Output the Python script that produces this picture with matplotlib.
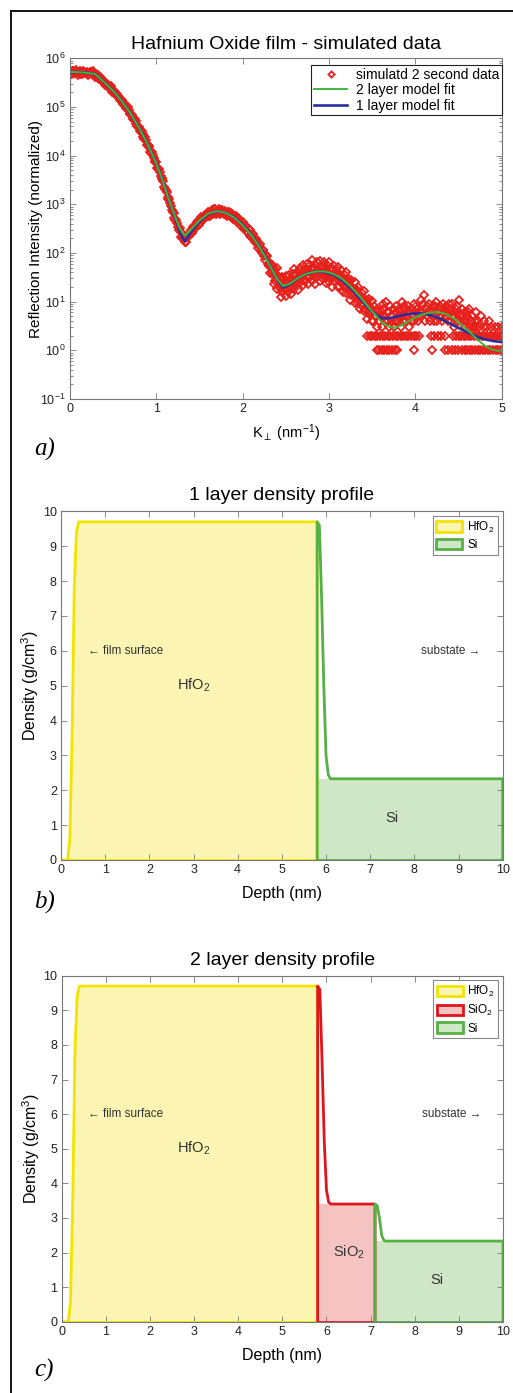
import numpy as np
import matplotlib
matplotlib.use('Agg')
import matplotlib.pyplot as plt
from matplotlib.lines import Line2D
from matplotlib.patches import Patch
import matplotlib.ticker as mticker

plt.rcParams['font.family'] = ['Liberation Sans', 'DejaVu Sans']
plt.rcParams['mathtext.fontset'] = 'custom'
plt.rcParams['mathtext.rm'] = 'Liberation Sans'
plt.rcParams['mathtext.it'] = 'Liberation Sans:italic'
plt.rcParams['mathtext.bf'] = 'Liberation Sans:bold'
plt.rcParams['mathtext.sf'] = 'Liberation Sans'

# ---------------- Panel a data ----------------
# dense part of the simulated data (log10 of intensity), two interleaved readings
segA_k = [0.00, 0.02, 0.04, 0.06, 0.08, 0.10, 0.12, 0.14, 0.16, 0.18,
          0.20, 0.22, 0.24, 0.26, 0.28, 0.30, 0.32, 0.34, 0.36, 0.38,
          0.40, 0.42, 0.44, 0.46, 0.48, 0.50, 0.52, 0.54, 0.56, 0.58,
          0.60, 0.62, 0.64, 0.66, 0.68, 0.70, 0.72, 0.74, 0.76, 0.78,
          0.80, 0.82, 0.84, 0.86, 0.88, 0.90, 0.92, 0.94, 0.96, 0.98,
          1.00, 1.02, 1.04, 1.06, 1.08, 1.10, 1.12, 1.14, 1.16, 1.18,
          1.20, 1.22, 1.24, 1.26, 1.28, 1.30, 1.32, 1.34, 1.36, 1.38,
          1.40, 1.42, 1.44, 1.46, 1.48, 1.50, 1.52, 1.54, 1.56, 1.58,
          1.60, 1.62, 1.64, 1.66, 1.68, 1.70, 1.72, 1.74, 1.76, 1.78,
          1.80, 1.82, 1.84, 1.86, 1.88, 1.90, 1.92, 1.94, 1.96, 1.98,
          2.00, 2.02, 2.04, 2.06, 2.08, 2.10, 2.12, 2.14, 2.16, 2.18,
          2.20, 2.22, 2.24, 2.26, 2.28, 2.30]
segA_log = [5.74, 5.70, 5.73, 5.69, 5.72, 5.70, 5.73, 5.68, 5.71, 5.69,
            5.72, 5.67, 5.71, 5.68, 5.70, 5.64, 5.65, 5.58, 5.59, 5.51,
            5.52, 5.45, 5.45, 5.38, 5.38, 5.31, 5.31, 5.23, 5.23, 5.14,
            5.14, 5.05, 5.04, 4.95, 4.94, 4.85, 4.83, 4.73, 4.71, 4.61,
            4.59, 4.48, 4.45, 4.35, 4.32, 4.21, 4.17, 4.05, 4.02, 3.90,
            3.86, 3.72, 3.67, 3.53, 3.47, 3.32, 3.25, 3.10, 3.03, 2.89,
            2.82, 2.68, 2.62, 2.48, 2.43, 2.30, 2.28, 2.22, 2.34, 2.34,
            2.47, 2.45, 2.56, 2.53, 2.65, 2.61, 2.73, 2.67, 2.78, 2.73,
            2.85, 2.77, 2.88, 2.80, 2.90, 2.82, 2.91, 2.81, 2.89, 2.80,
            2.87, 2.77, 2.85, 2.74, 2.81, 2.70, 2.76, 2.64, 2.70, 2.56,
            2.63, 2.49, 2.55, 2.41, 2.47, 2.32, 2.39, 2.22, 2.28, 2.10,
            2.18, 1.99, 2.06, 1.86, 1.93, 1.73]
segA2_k = [0.01, 0.03, 0.05, 0.07, 0.09, 0.11, 0.13, 0.15, 0.17, 0.19,
           0.21, 0.23, 0.25, 0.27, 0.29, 0.31, 0.33, 0.35, 0.37, 0.39,
           0.41, 0.43, 0.45, 0.47, 0.49, 0.51, 0.53, 0.55, 0.57, 0.59,
           0.61, 0.63, 0.65, 0.67, 0.69, 0.71, 0.73, 0.75, 0.77, 0.79,
           0.81, 0.83, 0.85, 0.87, 0.89, 0.91, 0.93, 0.95, 0.97, 0.99,
           1.01, 1.03, 1.05, 1.07, 1.09, 1.11, 1.13, 1.15, 1.17, 1.19,
           1.21, 1.23, 1.25, 1.27, 1.29, 1.31, 1.33, 1.35, 1.37, 1.39,
           1.41, 1.43, 1.45, 1.47, 1.49, 1.51, 1.53, 1.55, 1.57, 1.59,
           1.61, 1.63, 1.65, 1.67, 1.69, 1.71, 1.73, 1.75, 1.77, 1.79,
           1.81, 1.83, 1.85, 1.87, 1.89, 1.91, 1.93, 1.95, 1.97, 1.99,
           2.01, 2.03, 2.05, 2.07, 2.09, 2.11, 2.13, 2.15, 2.17, 2.19,
           2.21, 2.23, 2.25, 2.27, 2.29]
segA2_log = [5.68, 5.74, 5.69, 5.75, 5.66, 5.72, 5.68, 5.74, 5.70, 5.69,
             5.66, 5.72, 5.67, 5.73, 5.62, 5.66, 5.59, 5.62, 5.55, 5.51,
             5.45, 5.48, 5.40, 5.43, 5.30, 5.32, 5.24, 5.27, 5.19, 5.13,
             5.06, 5.08, 4.98, 5.00, 4.85, 4.85, 4.75, 4.76, 4.66, 4.59,
             4.50, 4.50, 4.38, 4.39, 4.22, 4.20, 4.08, 4.08, 3.96, 3.87,
             3.75, 3.73, 3.58, 3.55, 3.35, 3.30, 3.15, 3.11, 2.96, 2.85,
             2.71, 2.68, 2.53, 2.51, 2.32, 2.30, 2.23, 2.32, 2.34, 2.39,
             2.42, 2.53, 2.53, 2.64, 2.58, 2.68, 2.67, 2.77, 2.76, 2.78,
             2.77, 2.85, 2.82, 2.90, 2.81, 2.87, 2.83, 2.89, 2.85, 2.83,
             2.78, 2.84, 2.77, 2.82, 2.70, 2.74, 2.67, 2.71, 2.63, 2.59,
             2.52, 2.55, 2.46, 2.49, 2.35, 2.37, 2.28, 2.29, 2.20, 2.14,
             2.05, 2.06, 1.94, 1.95, 1.78]

segB_k = [2.32, 2.34, 2.36, 2.38, 2.40, 2.42, 2.44, 2.46, 2.48, 2.50,
          2.52, 2.54, 2.56, 2.58, 2.60, 2.62, 2.64, 2.66, 2.68, 2.70,
          2.72, 2.74, 2.76, 2.78, 2.80, 2.82, 2.84, 2.86, 2.88, 2.90,
          2.92, 2.94, 2.96, 2.98, 3.00, 3.02, 3.04, 3.06, 3.08, 3.10,
          3.12, 3.14, 3.16, 3.18, 3.20, 3.22, 3.24, 3.26, 3.28, 3.30,
          3.32, 3.34, 3.36, 3.38, 3.40, 3.42, 3.44, 3.46, 3.48, 3.50]
segB_log_hi = [1.80, 1.76, 1.65, 1.68, 1.69, 1.48, 1.48, 1.50, 1.34, 1.53,
               1.43, 1.55, 1.43, 1.56, 1.67, 1.54, 1.62, 1.70, 1.57, 1.76,
               1.66, 1.77, 1.65, 1.76, 1.85, 1.69, 1.75, 1.81, 1.66, 1.84,
               1.72, 1.81, 1.67, 1.76, 1.82, 1.65, 1.69, 1.73, 1.56, 1.72,
               1.57, 1.65, 1.48, 1.55, 1.60, 1.41, 1.43, 1.45, 1.26, 1.40,
               1.24, 1.30, 1.12, 1.18, 1.22, 1.02, 1.03, 1.05, 0.87, 1.02]
segB_log_lo = [1.59, 1.61, 1.37, 1.42, 1.27, 1.33, 1.09, 1.19, 1.27, 1.11,
               1.19, 1.30, 1.15, 1.30, 1.25, 1.39, 1.23, 1.39, 1.50, 1.34,
               1.42, 1.52, 1.37, 1.50, 1.43, 1.54, 1.36, 1.50, 1.59, 1.42,
               1.48, 1.56, 1.39, 1.50, 1.40, 1.50, 1.30, 1.42, 1.49, 1.30,
               1.33, 1.40, 1.20, 1.29, 1.18, 1.26, 1.04, 1.14, 1.19, 0.98,
               1.00, 1.05, 0.84, 0.92, 0.80, 0.87, 0.64, 0.74, 0.80, 0.60]
segBm_k = [2.33, 2.35, 2.37, 2.39, 2.41, 2.43, 2.45, 2.47, 2.49, 2.51,
           2.53, 2.55, 2.57, 2.59, 2.61, 2.63, 2.65, 2.67, 2.69, 2.71,
           2.73, 2.75, 2.77, 2.79, 2.81, 2.83, 2.85, 2.87, 2.89, 2.91,
           2.93, 2.95, 2.97, 2.99, 3.01, 3.03, 3.05, 3.07, 3.09, 3.11,
           3.13, 3.15, 3.17, 3.19, 3.21, 3.23, 3.25, 3.27, 3.29, 3.31,
           3.33, 3.35, 3.37, 3.39, 3.41, 3.43, 3.45, 3.47, 3.49]
segBm_log = [1.76, 1.56, 1.58, 1.46, 1.52, 1.29, 1.33, 1.35, 1.26, 1.39,
             1.40, 1.29, 1.41, 1.39, 1.54, 1.39, 1.50, 1.56, 1.49, 1.62,
             1.63, 1.51, 1.62, 1.58, 1.70, 1.53, 1.62, 1.66, 1.57, 1.69,
             1.68, 1.54, 1.63, 1.56, 1.67, 1.48, 1.55, 1.57, 1.46, 1.56,
             1.52, 1.37, 1.43, 1.35, 1.44, 1.23, 1.28, 1.28, 1.15, 1.23,
             1.18, 1.01, 1.06, 0.97, 1.05, 0.83, 0.88, 0.89, 0.77]

# noisy tail: integer counts
cl1_k = [3.50, 3.52, 3.54, 3.56, 3.58, 3.60, 3.62, 3.64, 3.66, 3.68,
         3.70, 3.72, 3.74, 3.76, 3.78, 3.80, 3.82, 3.84, 3.86, 3.88,
         3.90, 3.92, 3.94, 3.96, 3.98, 4.00, 4.02, 4.04, 4.06, 4.08,
         4.10, 4.12, 4.14, 4.16, 4.18, 4.20, 4.22, 4.24, 4.26, 4.28,
         4.30, 4.32, 4.34, 4.36, 4.38, 4.40, 4.42, 4.44, 4.46, 4.48,
         4.50, 4.52, 4.54, 4.56, 4.58, 4.60, 4.62, 4.64, 4.66, 4.68, 4.70]
cl1_I = [6, 8, 5, 7, 4, 6, 9, 5, 10, 4,
         6, 5, 7, 4, 8, 5, 6, 10, 4, 7,
         5, 8, 6, 4, 9, 6, 7, 5, 11, 6,
         14, 7, 5, 9, 6, 8, 4, 10, 6, 7,
         5, 9, 6, 8, 4, 7, 9, 5, 6, 8,
         11, 5, 7, 4, 6, 5, 7, 4, 5, 3, 6]
cl2_k = [3.51, 3.53, 3.55, 3.57, 3.59, 3.61, 3.63, 3.65, 3.67, 3.69,
         3.71, 3.73, 3.75, 3.77, 3.79, 3.81, 3.83, 3.85, 3.87, 3.89,
         3.91, 3.93, 3.95, 3.97, 3.99, 4.01, 4.03, 4.05, 4.07, 4.09,
         4.11, 4.13, 4.15, 4.17, 4.19, 4.21, 4.23, 4.25, 4.27, 4.29,
         4.31, 4.33, 4.35, 4.37, 4.39, 4.41, 4.43, 4.45, 4.47, 4.49,
         4.51, 4.53, 4.55, 4.57, 4.59, 4.61, 4.63, 4.65, 4.67, 4.69]
cl2_I = [4, 5, 3, 6, 5, 3, 7, 4, 6, 3,
         8, 4, 3, 6, 4, 7, 3, 5, 8, 4,
         6, 3, 7, 5, 4, 8, 4, 6, 5, 9,
         4, 8, 6, 4, 7, 5, 8, 4, 6, 8,
         4, 7, 5, 6, 9, 4, 6, 3, 7, 4,
         6, 4, 5, 3, 4, 6, 3, 4, 3, 4]
row1_k = [3.55, 3.58, 3.61, 3.64, 3.67, 3.70, 3.73, 3.76, 3.79, 3.98,
          4.19, 4.34, 4.38, 4.42, 4.46, 4.49, 4.54, 4.57, 4.60, 4.63,
          4.66, 4.69, 4.72, 4.75, 4.78, 4.81, 4.84, 4.87, 4.90, 4.93,
          4.96, 4.99]
row2_k = [3.44, 3.47, 3.50, 3.53, 3.56, 3.59, 3.62, 3.65, 3.68, 3.71,
          3.74, 3.77, 3.80, 3.83, 3.86, 3.89, 3.92, 3.95, 3.98, 4.01,
          4.04, 4.18, 4.22, 4.26, 4.30, 4.34, 4.44, 4.47, 4.50, 4.53,
          4.56, 4.59, 4.62, 4.65, 4.68, 4.71, 4.74, 4.77, 4.80, 4.83,
          4.86, 4.89, 4.92, 4.95, 4.98, 5.00]
row3_k = [4.70, 4.74, 4.79, 4.83, 4.88, 4.92, 4.96, 5.00]
extra_k = [4.72, 4.76, 4.80, 4.85]
extra_I = [4, 5, 4, 4]

# model fits (log10 intensity)
fit2_k = [0.00, 0.15, 0.29, 0.40, 0.50, 0.60, 0.70, 0.80, 0.90, 1.00,
          1.07, 1.14, 1.20, 1.26, 1.30, 1.33, 1.36, 1.40, 1.50, 1.60,
          1.70, 1.80, 1.90, 2.00, 2.10, 2.20, 2.30, 2.40, 2.47, 2.55,
          2.65, 2.75, 2.85, 2.95, 3.05, 3.15, 3.25, 3.35, 3.45, 3.55,
          3.62, 3.70, 3.76, 3.85, 3.95, 4.05, 4.15, 4.25, 4.35, 4.45,
          4.55, 4.65, 4.72, 4.80, 4.88, 4.95, 5.00]
fit2_log = [5.72, 5.71, 5.68, 5.50, 5.33, 5.12, 4.87, 4.57, 4.23, 3.84,
            3.50, 3.12, 2.82, 2.55, 2.42, 2.36, 2.40, 2.48, 2.67, 2.81,
            2.86, 2.83, 2.73, 2.57, 2.37, 2.11, 1.79, 1.46, 1.32, 1.37,
            1.50, 1.58, 1.62, 1.62, 1.57, 1.47, 1.31, 1.12, 0.90, 0.70,
            0.56, 0.48, 0.46, 0.52, 0.63, 0.72, 0.77, 0.79, 0.75, 0.65,
            0.50, 0.34, 0.22, 0.10, 0.02, -0.01, 0.00]
fit1_k = [0.00, 0.15, 0.29, 0.40, 0.50, 0.60, 0.70, 0.80, 0.90, 1.00,
          1.07, 1.14, 1.20, 1.26, 1.30, 1.33, 1.36, 1.40, 1.50, 1.60,
          1.70, 1.80, 1.90, 2.00, 2.10, 2.20, 2.30, 2.40, 2.47, 2.55,
          2.65, 2.75, 2.85, 2.95, 3.05, 3.15, 3.25, 3.35, 3.45, 3.55,
          3.62, 3.70, 3.80, 3.90, 4.00, 4.10, 4.20, 4.30, 4.40, 4.50,
          4.60, 4.70, 4.80, 4.90, 5.00]
fit1_log = [5.72, 5.71, 5.68, 5.50, 5.33, 5.12, 4.87, 4.57, 4.23, 3.84,
            3.50, 3.12, 2.80, 2.50, 2.32, 2.24, 2.31, 2.43, 2.65, 2.80,
            2.86, 2.83, 2.74, 2.58, 2.38, 2.12, 1.80, 1.45, 1.29, 1.36,
            1.50, 1.58, 1.62, 1.61, 1.55, 1.44, 1.28, 1.08, 0.88, 0.72,
            0.66, 0.66, 0.70, 0.74, 0.76, 0.75, 0.71, 0.64, 0.55, 0.46,
            0.37, 0.29, 0.23, 0.19, 0.17]

# ---------------- Panels b/c data ----------------
hf_depth = [0.00, 0.15, 0.20, 0.25, 0.30, 0.35, 0.40, 5.80]
hf_dens = [0.00, 0.00, 0.60, 3.50, 7.80, 9.40, 9.70, 9.70]
si1_depth = [5.80, 5.80, 5.85, 5.90, 5.95, 6.00, 6.05, 6.10, 10.00]
si1_dens = [0.00, 9.70, 9.60, 7.50, 5.00, 3.00, 2.45, 2.33, 2.33]
sio2_depth = [5.80, 5.80, 5.85, 5.90, 5.95, 6.00, 6.05, 6.10, 7.10]
sio2_dens = [0.00, 9.70, 9.60, 7.50, 5.20, 3.80, 3.45, 3.40, 3.40]
si2_depth = [7.10, 7.10, 7.15, 7.20, 7.25, 7.30, 7.35, 10.00]
si2_dens = [0.00, 3.40, 3.35, 3.00, 2.50, 2.35, 2.33, 2.33]
# nominal layer densities / boundaries for fills
rho_si = 2.33
rho_sio2 = 3.40
z_hf_si = 5.80
z_sio2_si = 7.10
z_end = 10.0

# ---------------- styling ----------------
W, H = 513, 1393
fig = plt.figure(figsize=(W / 100, H / 100), dpi=100)


def rect(l, t, r, b):
    return [l / W, 1 - b / H, (r - l) / W, (b - t) / H]


RED = '#e8201c'
GREEN = '#3fb83a'
BLUE = '#2a2f9c'
SPINE = '#777777'

# border of the figure
fig.add_artist(Line2D([11 / W, 11 / W], [0, 1 - 11 / H], transform=fig.transFigure,
                      color='black', lw=1.3))
fig.add_artist(Line2D([11 / W, 1], [1 - 11 / H, 1 - 11 / H], transform=fig.transFigure,
                      color='black', lw=1.3))


def style_axes(ax, labelsize):
    for s in ax.spines.values():
        s.set_color(SPINE)
        s.set_linewidth(0.8)
    ax.tick_params(which='both', direction='in', top=True, right=True,
                   color=SPINE, width=0.6, labelsize=labelsize, labelcolor='#222222', pad=3)
    ax.tick_params(which='major', length=4)
    ax.tick_params(which='minor', length=2)


# ---------------- panel a ----------------
axA = fig.add_axes(rect(70, 58.3, 501.7, 399))
data_k = (segA_k + segA2_k + segB_k + segB_k + segBm_k + cl1_k + cl2_k +
          row1_k + row2_k + row3_k + extra_k)
data_I = ([10 ** v for v in segA_log] + [10 ** v for v in segA2_log] +
          [10 ** v for v in segB_log_hi] + [10 ** v for v in segB_log_lo] +
          [10 ** v for v in segBm_log] + cl1_I + cl2_I +
          [1] * len(row1_k) + [2] * len(row2_k) + [3] * len(row3_k) + extra_I)
axA.plot(data_k, data_I, ls='none', marker='D', ms=3.7, mfc='none', mec=RED, mew=1.3,
         label='simulatd 2 second data')
axA.plot(fit1_k, [10 ** v for v in fit1_log], color=BLUE, lw=1.9, label='1 layer model fit')
axA.plot(fit2_k, [10 ** v for v in fit2_log], color=GREEN, lw=1.4, label='2 layer model fit')
axA.set_yscale('log')
axA.set_xlim(0, 5)
axA.set_ylim(1e-1, 1e6)
axA.set_xticks([0, 1, 2, 3, 4, 5])
axA.yaxis.set_major_locator(mticker.LogLocator(base=10, numticks=20))
axA.yaxis.set_minor_locator(mticker.LogLocator(base=10, subs=np.arange(2, 10), numticks=20))
axA.yaxis.set_minor_formatter(mticker.NullFormatter())
style_axes(axA, 9)
axA.set_title('Hafnium Oxide film - simulated data', fontsize=14, pad=7)
axA.set_ylabel('Reflection Intensity (normalized)', fontsize=11)
axA.yaxis.set_label_coords(-0.062, 0.5)
axA.set_xlabel(r'K$_{\perp}$ (nm$^{-1}$)', fontsize=10.5)
axA.xaxis.set_label_coords(0.5, -0.07)
h, lab = axA.get_legend_handles_labels()
order = [0, 2, 1]
legA = axA.legend([h[i] for i in order], [lab[i] for i in order],
                  loc='upper right', bbox_to_anchor=(501.7 / W, 1 - 65 / H),
                  bbox_transform=fig.transFigure, borderaxespad=0, fontsize=10,
                  fancybox=False, framealpha=1, edgecolor='#222222',
                  handlelength=2.4, handletextpad=0.6, labelspacing=0.1,
                  borderpad=0.2, markerscale=0.85)
legA.get_frame().set_linewidth(0.8)
fig.text(34 / W, 1 - 456 / H, 'a)', fontsize=18, style='italic',
         family=['Liberation Serif', 'DejaVu Serif'], va='baseline', ha='left')

# ---------------- panels b, c ----------------
YEL_L = '#f0e400'
YEL_F = '#fbf4b2'
RED_L = '#e0141c'
RED_F = '#f6c3c3'
GRN_L = '#56b046'
GRN_F = '#cfe7c7'
TXT = '#333333'


def density_axes(ax, title, two_layer):
    ax.fill_between(hf_depth, hf_dens, color=YEL_F, lw=0)
    ax.plot(hf_depth + [z_hf_si], hf_dens + [0.0], color=YEL_L, lw=2)
    ax.plot([0, z_hf_si], [0, 0], color=YEL_L, lw=2)
    if two_layer:
        ax.fill_between([z_hf_si, z_sio2_si], [rho_sio2, rho_sio2], color=RED_F, lw=0)
        ax.fill_between([z_sio2_si, z_end], [rho_si, rho_si], color=GRN_F, lw=0)
        ax.plot(sio2_depth + [z_sio2_si], sio2_dens + [0.0], color=RED_L, lw=2)
        ax.plot([z_hf_si, z_sio2_si], [0, 0], color=RED_L, lw=2)
        ax.plot(si2_depth + [z_end], si2_dens + [0.0], color=GRN_L, lw=2)
        ax.plot([z_sio2_si, z_end], [0, 0], color=GRN_L, lw=2)
        handles = [Patch(facecolor=YEL_F, edgecolor=YEL_L, lw=2),
                   Patch(facecolor=RED_F, edgecolor=RED_L, lw=2),
                   Patch(facecolor=GRN_F, edgecolor=GRN_L, lw=2)]
        labels = ['HfO$_2$', 'SiO$_2$', 'Si']
        ax.text(6.5, 2.0, 'SiO$_2$', fontsize=10.5, ha='center', va='center', color=TXT)
        ax.text(8.5, 1.2, 'Si', fontsize=10.5, ha='center', va='center', color=TXT)
    else:
        ax.fill_between([z_hf_si, z_end], [rho_si, rho_si], color=GRN_F, lw=0)
        ax.plot(si1_depth + [z_end], si1_dens + [0.0], color=GRN_L, lw=2)
        ax.plot([z_hf_si, z_end], [0, 0], color=GRN_L, lw=2)
        handles = [Patch(facecolor=YEL_F, edgecolor=YEL_L, lw=2),
                   Patch(facecolor=GRN_F, edgecolor=GRN_L, lw=2)]
        labels = ['HfO$_2$', 'Si']
        ax.text(7.5, 1.2, 'Si', fontsize=10.5, ha='center', va='center', color=TXT)
    ax.text(3.0, 5.0, 'HfO$_2$', fontsize=10.5, ha='center', va='center', color=TXT)
    ax.text(0.6, 6.0, '\u2190 film surface', fontsize=8.5, ha='left', va='center', color=TXT)
    ax.text(9.5, 6.0, 'substate \u2192', fontsize=8.5, ha='right', va='center', color=TXT)
    ax.set_xlim(0, 10)
    ax.set_ylim(0, 10)
    ax.set_xticks(range(0, 11))
    ax.set_yticks(range(0, 11))
    style_axes(ax, 9)
    ax.set_title(title, fontsize=14, pad=8)
    ax.set_xlabel('Depth (nm)', fontsize=11.5)
    ax.xaxis.set_label_coords(0.5, -0.075)
    ax.set_ylabel('Density (g/cm$^3$)', fontsize=11.5)
    ax.yaxis.set_label_coords(-0.045, 0.5)
    leg = ax.legend(handles, labels, loc='upper right', fontsize=8.5, fancybox=False,
                    edgecolor='#888888', framealpha=1, handlelength=2.2, handleheight=1.0,
                    handletextpad=0.4, labelspacing=0.35, borderpad=0.3, borderaxespad=0.4)
    leg.get_frame().set_linewidth(0.8)


axB = fig.add_axes(rect(61, 511.4, 502.7, 860))
density_axes(axB, '1 layer density profile', False)
fig.text(34 / W, 1 - 909 / H, 'b)', fontsize=18, style='italic',
         family=['Liberation Serif', 'DejaVu Serif'], va='baseline', ha='left')

axC = fig.add_axes(rect(61.7, 975.7, 503, 1321.7))
density_axes(axC, '2 layer density profile', True)
fig.text(34 / W, 1 - 1377 / H, 'c)', fontsize=18, style='italic',
         family=['Liberation Serif', 'DejaVu Serif'], va='baseline', ha='left')

fig.savefig('out.png', dpi=100)
